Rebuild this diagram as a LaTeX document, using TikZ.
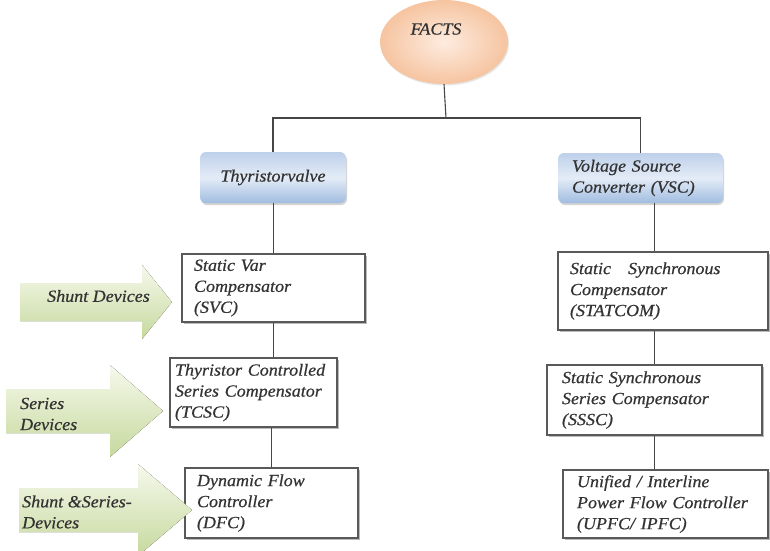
\documentclass[tikz,border=0pt]{standalone}
\usepackage{fontspec}
\setmainfont{Liberation Serif}[FakeStretch=1.06, FakeBold=0.6]
\usetikzlibrary{shapes.geometric,shadows}
\definecolor{peachin}{RGB}{253,236,224}
\definecolor{peachout}{RGB}{246,196,160}
\definecolor{bluetop}{RGB}{190,208,234}
\definecolor{bluemid}{RGB}{228,236,247}
\definecolor{bluebot}{RGB}{160,188,224}
\definecolor{grnlight}{RGB}{246,249,236}
\definecolor{grndark}{RGB}{198,217,158}
\definecolor{linegray}{RGB}{70,70,70}
\begin{document}
\begin{tikzpicture}[x=1pt,y=-1pt,
  every node/.style={font=\fontsize{17}{21}\selectfont\itshape, text=black!80},
  bluebox/.style={rectangle, rounded corners=6pt, top color=bluetop, bottom color=bluebot, middle color=bluemid,
    drop shadow={shadow xshift=1pt, shadow yshift=-2pt, opacity=0.35}},
  wbox/.style={rectangle, draw=black!65, line width=1.2pt, fill=white, align=left, inner ysep=3pt,
    drop shadow={shadow xshift=2pt, shadow yshift=-2pt, fill=black!45, opacity=0.6}},
  conn/.style={draw=linegray, line width=1.1pt},
  blockarrow/.style={top color=grnlight, bottom color=grndark, draw=none},
  arrowtext/.style={anchor=west, align=left, inner sep=0pt},
]
\useasboundingbox (0,0) rectangle (770,550);

% top ellipse
\node[ellipse, minimum width=128pt, minimum height=84pt, inner color=peachin, outer color=peachout,
  drop shadow={shadow xshift=1pt, shadow yshift=-1.5pt, opacity=0.2}] (facts) at (444,42) {};
\node (factslabel) at (436,29) {FACTS};

% blue boxes
\node[bluebox, minimum width=146pt, minimum height=51pt] (thy) at (273,177.5) {Thyristorvalve};
\node[bluebox, minimum height=50pt, text width=137pt, inner xsep=14pt, align=left] (vsc) at (640.5,178) {Voltage Source\\Converter (VSC)};

% white boxes, left column
\node[wbox, text width=159pt, inner xsep=12pt, minimum height=68pt] (svc) at (273.5,288) {Static Var\\Compensator\\(SVC)};
\node[wbox, text width=157pt, inner xsep=5pt, minimum height=69pt] (tcsc) at (253.5,392.5) {Thyristor Controlled\\Series Compensator\\(TCSC)};
\node[wbox, text width=149pt, inner xsep=12pt, minimum height=70pt] (dfc) at (271.5,503) {Dynamic Flow\\Controller\\(DFC)};

% white boxes, right column
\node[wbox, text width=186pt, inner xsep=12pt, minimum height=78pt] (statcom) at (663,291) {Static\quad Synchronous\\Compensator\\(STATCOM)};
\node[wbox, text width=185pt, inner xsep=15pt, minimum height=70pt] (sssc) at (654.5,400) {Static Synchronous\\Series Compensator\\(SSSC)};
\node[wbox, text width=177pt, inner xsep=14pt, minimum height=68pt] (upfc) at (665.5,504) {Unified / Interline\\Power Flow Controller\\(UPFC/ IPFC)};

% block arrows
\fill[blockarrow] (20,283) -- (142,283) -- (142,265) -- (172,302) -- (142,339) -- (142,321) -- (20,321) -- cycle;
\node[arrowtext] (shunt) at (47,296) {Shunt Devices};
\fill[blockarrow] (6,389) -- (110,389) -- (110,365) -- (163,411) -- (110,457) -- (110,433) -- (6,433) -- cycle;
\node[arrowtext] (series) at (20,414) {Series\\Devices};
\fill[blockarrow] (19,488) -- (138,488) -- (138,464) -- (192,510) -- (138,556) -- (138,532) -- (19,532) -- cycle;
\node[arrowtext] (shser) at (22,512) {Shunt \&Series-\\Devices};

% connectors
\coordinate (bus) at (446,118);
\draw[conn] (facts.south) -- (bus);
\draw[conn] (thy.north) |- (bus) -| (vsc.north);
\draw[conn] (svc.north |- thy.south) -- (svc.north);
\draw[conn] (svc.south) -- (svc.south |- tcsc.north);
\draw[conn] (dfc.north |- tcsc.south) -- (dfc.north);
\draw[conn] (sssc.north |- vsc.south) -- (sssc.north |- statcom.north);
\draw[conn] (sssc.north |- statcom.south) -- (sssc.north);
\draw[conn] (sssc.south) -- (sssc.south |- upfc.north);
\end{tikzpicture}
\end{document}
